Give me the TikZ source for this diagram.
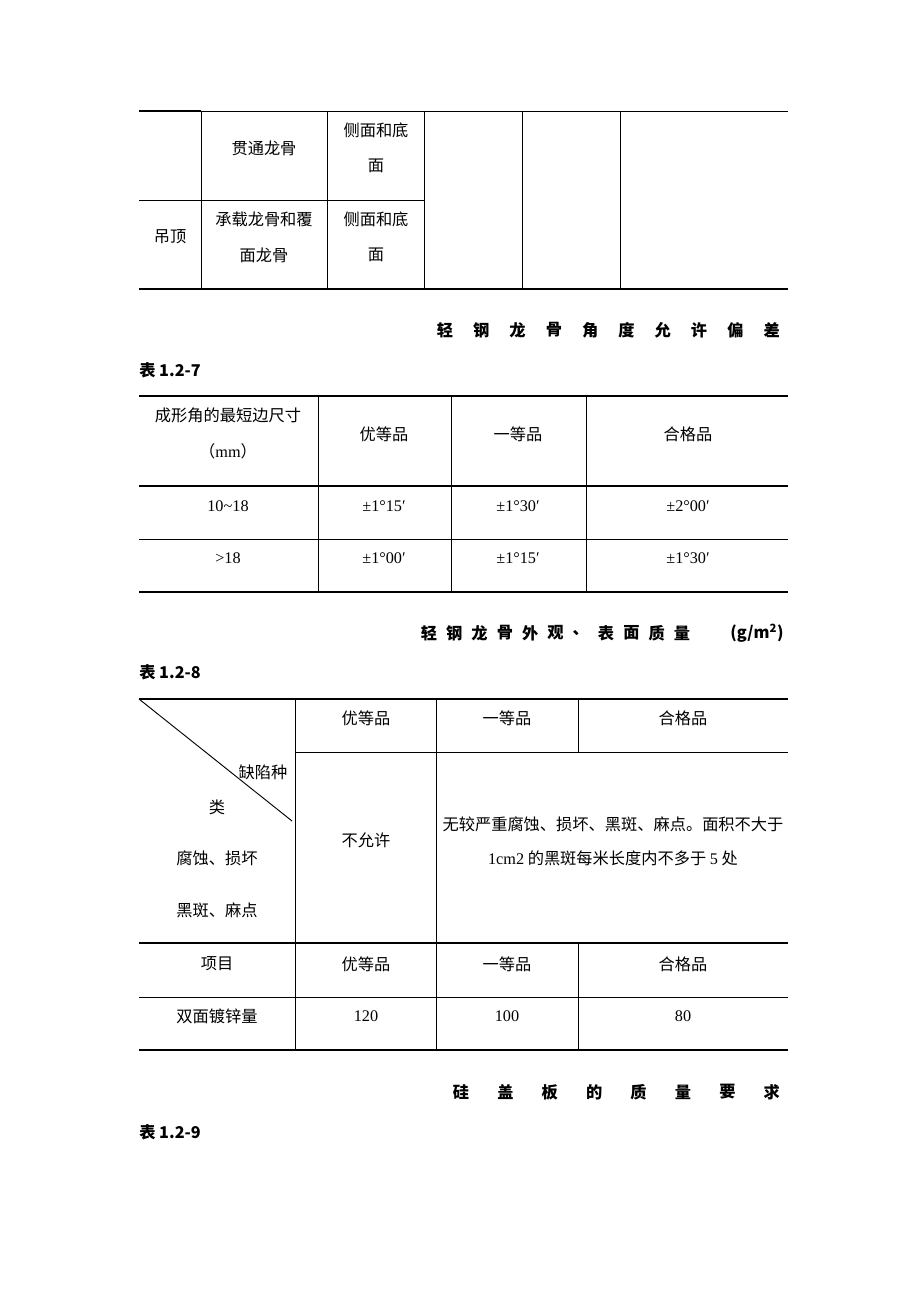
\documentclass[tikz,border=0pt]{standalone}
\usepackage{fontspec}
\setmainfont{Liberation Serif}
\newfontfamily\cjk{Noto Sans CJK SC}
\newcommand{\lat}{\fontspec{Liberation Serif}}
\begin{document}
\begin{tikzpicture}[x=0.647pt, y=-0.647pt,
	thinrule/.style={line width=0.6pt},
	thickrule/.style={line width=1.9pt},
	cell/.style={font=\cjk\fontsize{10.5}{12}\selectfont, inner sep=0pt},
	num/.style={font=\fontsize{10.5}{12}\selectfont, inner sep=0pt},
	heading/.style={font=\cjk\bfseries\fontsize{10.5}{12}\selectfont, inner sep=0pt}]
	\useasboundingbox (0,0) rectangle (920,1302);

	% tail of the ceiling table
	\draw[thickrule] (139,111) -- (201,111);
	\draw[thinrule] (201,111) -- (788,111);
	\foreach \x in {201,327,424,522,620}
		\draw[thinrule] (\x,111) -- (\x,289);
	\draw[thinrule] (139,200) -- (424,200);
	\draw[thickrule] (139,289) -- (788,289);
	\node[cell] (gt)  at (264,148) {贯通龙骨};
	\node[cell] (cm1) at (376,130) {侧面和底};
	\node[cell] (cm2) at (376,166) {面};
	\node[cell] (dd)  at (170,237) {吊顶};
	\node[cell] (cz1) at (264,219) {承载龙骨和覆};
	\node[cell] (cz2) at (264,255) {面龙骨};
	\node[cell] (cm3) at (376,219) {侧面和底};
	\node[cell] (cm4) at (376,255) {面};

	% table 1.2-7
	\foreach \c [count=\i from 0] in {轻,钢,龙,骨,角,度,允,许,偏,差}
		\node[heading] (ta-\i) at (445+36.3*\i,330) {\c};
	\node[heading, anchor=west] (tab7) at (139,370) {表\ 1.2-7};
	\draw[thickrule] (139,396) -- (788,396);
	\draw[thickrule] (139,486) -- (788,486);
	\draw[thinrule] (139,539) -- (788,539);
	\draw[thickrule] (139,592) -- (788,592);
	\foreach \x in {318,451,586}
		\draw[thinrule] (\x,396) -- (\x,592);
	\node[cell] (cx1) at (228,415) {成形角的最短边尺寸};
	\node[cell] (cx2) at (228,451) {（{\lat mm}）};
	\node[cell] (h1)  at (384,434) {优等品};
	\node[cell] (h2)  at (518,434) {一等品};
	\node[cell] (h3)  at (688,434) {合格品};
	\node[num] (r1)  at (228,506) {10\textasciitilde 18};
	\node[num] (r11) at (384,506) {±1°15′};
	\node[num] (r12) at (518,506) {±1°30′};
	\node[num] (r13) at (688,506) {±2°00′};
	\node[num] (r2)  at (228,558) {>18};
	\node[num] (r21) at (384,558) {±1°00′};
	\node[num] (r22) at (518,558) {±1°15′};
	\node[num] (r23) at (688,558) {±1°30′};

	% table 1.2-8
	\foreach \c [count=\i from 0] in {轻,钢,龙,骨,外,观,、,表,面,质,量}
		\node[heading] (tb-\i) at (429+25.3*\i,633) {\c};
	\node[heading] (unit) at (757,633) {(g/m\textsuperscript{2})};
	\node[heading, anchor=west] (tab8) at (139,672) {表\ 1.2-8};
	\draw[thickrule] (139,699) -- (788,699);
	\draw[thinrule] (139,699) -- (292,821);
	\draw[thinrule] (295,752) -- (788,752);
	\draw[thinrule] (295,699) -- (295,1050);
	\draw[thinrule] (436,699) -- (436,1050);
	\draw[thinrule] (578,699) -- (578,752);
	\draw[thickrule] (139,943) -- (788,943);
	\draw[thinrule] (578,943) -- (578,1050);
	\draw[thinrule] (139,997) -- (788,997);
	\draw[thickrule] (139,1050) -- (788,1050);
	\node[cell] (g1) at (366,718) {优等品};
	\node[cell] (g2) at (507,718) {一等品};
	\node[cell] (g3) at (683,718) {合格品};
	\node[cell] (qx1) at (263,772) {缺陷种};
	\node[cell] (qx2) at (217,807) {类};
	\node[cell] (fs)  at (217,858) {腐蚀、损坏};
	\node[cell] (hb)  at (217,910) {黑斑、麻点};
	\node[cell] (byx) at (366,840) {不允许};
	\node[cell] (wj1) at (613,824) {无较严重腐蚀、损坏、黑斑、麻点。面积不大于};
	\node[cell] (wj2) at (613,858) {{\lat 1cm2} 的黑斑每米长度内不多于 {\lat 5} 处};
	\node[cell] (xm) at (217,964) {项目};
	\node[cell] (k1) at (366,964) {优等品};
	\node[cell] (k2) at (507,964) {一等品};
	\node[cell] (k3) at (683,964) {合格品};
	\node[cell] (sm) at (217,1016) {双面镀锌量};
	\node[num] (v1) at (366,1016) {120};
	\node[num] (v2) at (507,1016) {100};
	\node[num] (v3) at (683,1016) {80};

	% table 1.2-9 heading
	\foreach \c [count=\i from 0] in {硅,盖,板,的,质,量,要,求}
		\node[heading] (tc-\i) at (461+44.4*\i,1092) {\c};
	\node[heading, anchor=west] (tab9) at (139,1132) {表\ 1.2-9};
\end{tikzpicture}
\end{document}
